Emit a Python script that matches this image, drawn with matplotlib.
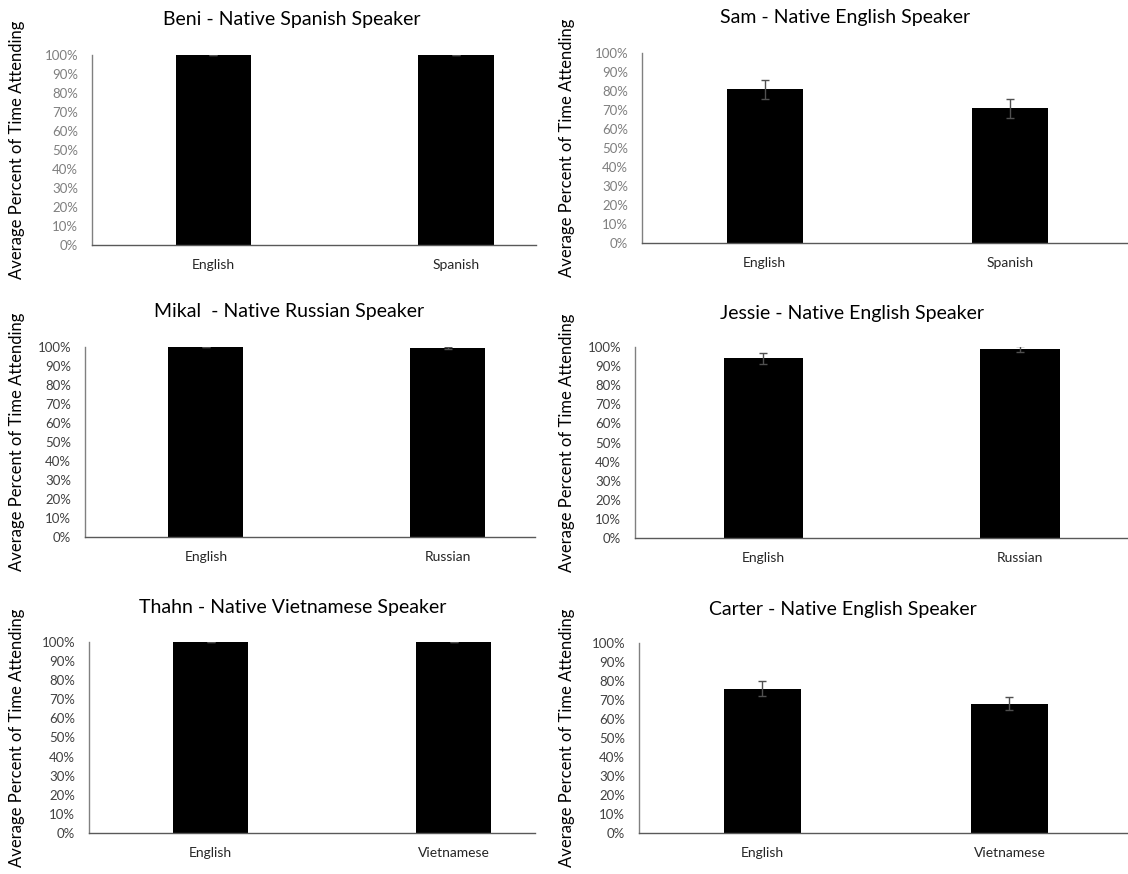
import numpy as np
import matplotlib
matplotlib.use('Agg')
from matplotlib import pyplot as plt
from matplotlib.ticker import PercentFormatter

plt.rcParams['font.family'] = ['Lato', 'DejaVu Sans']

# chart data, one list per panel
titles = ['Beni - Native Spanish Speaker', 'Sam - Native English Speaker',
          'Mikal  - Native Russian Speaker', 'Jessie - Native English Speaker',
          'Thahn - Native Vietnamese Speaker', 'Carter - Native English Speaker']
categories = [['English', 'Spanish'], ['English', 'Spanish'],
              ['English', 'Russian'], ['English', 'Russian'],
              ['English', 'Vietnamese'], ['English', 'Vietnamese']]
beni = [1.00, 1.00]
beni_err = [0.0, 0.0]
sam = [0.81, 0.71]
sam_err = [0.05, 0.05]
mikal = [1.00, 0.995]
mikal_err = [0.0, 0.003]
jessie = [0.94, 0.99]
jessie_err = [0.03, 0.015]
thahn = [1.00, 1.00]
thahn_err = [0.0, 0.0]
carter = [0.76, 0.68]
carter_err = [0.04, 0.035]
values = [beni, sam, mikal, jessie, thahn, carter]
errors = [beni_err, sam_err, mikal_err, jessie_err, thahn_err, carter_err]
ylabel = 'Average Percent of Time Attending'

# layout in pixels: (left, right, top, bottom), right xlim, title pos, ylabel x
W, H = 1128, 874
boxes = [(92, 536, 55, 245), (642, 1128, 53, 243),
         (85, 535, 347, 537), (635, 1128, 347, 538),
         (89, 535, 642, 833), (639, 1128, 643, 833)]
xright = [1.33, 1.48, 1.36, 1.42, 1.335, 1.48]
title_pos = [(292, 20), (845, 18), (289, 312), (852, 313), (293, 608), (843, 609)]
ylab_x = [17, 567, 17, 567, 17, 567]
tick_colors = ['#7f7f7f', '#7f7f7f', '#404040', '#404040', '#404040', '#404040']

fig = plt.figure(figsize=(W / 100, H / 100), dpi=100)

for i in range(6):
    l, r, t, b = boxes[i]
    ax = fig.add_axes([l / W, 1 - b / H, (r - l) / W, (b - t) / H])
    x = np.arange(len(categories[i]))
    ax.bar(x, values[i], width=0.31, color='black', zorder=2)
    ax.errorbar(x, values[i], yerr=errors[i], fmt='none', ecolor='#505050',
                elinewidth=1, capsize=3, capthick=1, zorder=3)
    ax.set_xlim(-0.5, xright[i])
    ax.set_ylim(0, 1)
    ax.set_yticks(np.arange(0, 1.01, 0.1))
    ax.yaxis.set_major_formatter(PercentFormatter(1.0, decimals=0))
    ax.set_xticks(x)
    ax.set_xticklabels(categories[i])
    ax.tick_params(axis='y', length=0, pad=10, labelsize=9.5, labelcolor=tick_colors[i])
    ax.tick_params(axis='x', length=0, pad=10, labelsize=10, labelcolor='#262626')
    for s in ['top', 'right']:
        ax.spines[s].set_visible(False)
    ax.spines['left'].set_color('#808080')
    ax.spines['bottom'].set_color('#595959')
    ax.spines['left'].set_linewidth(1)
    ax.spines['bottom'].set_linewidth(1)

    tx, ty = title_pos[i]
    fig.text(tx / W, 1 - ty / H, titles[i], ha='center', va='center',
             fontsize=14, color='black')
    fig.text(ylab_x[i] / W, 1 - ((t + b) / 2) / H, ylabel, rotation=90,
             ha='center', va='center', fontsize=12, color='black')

fig.savefig('out.png', dpi=100)
